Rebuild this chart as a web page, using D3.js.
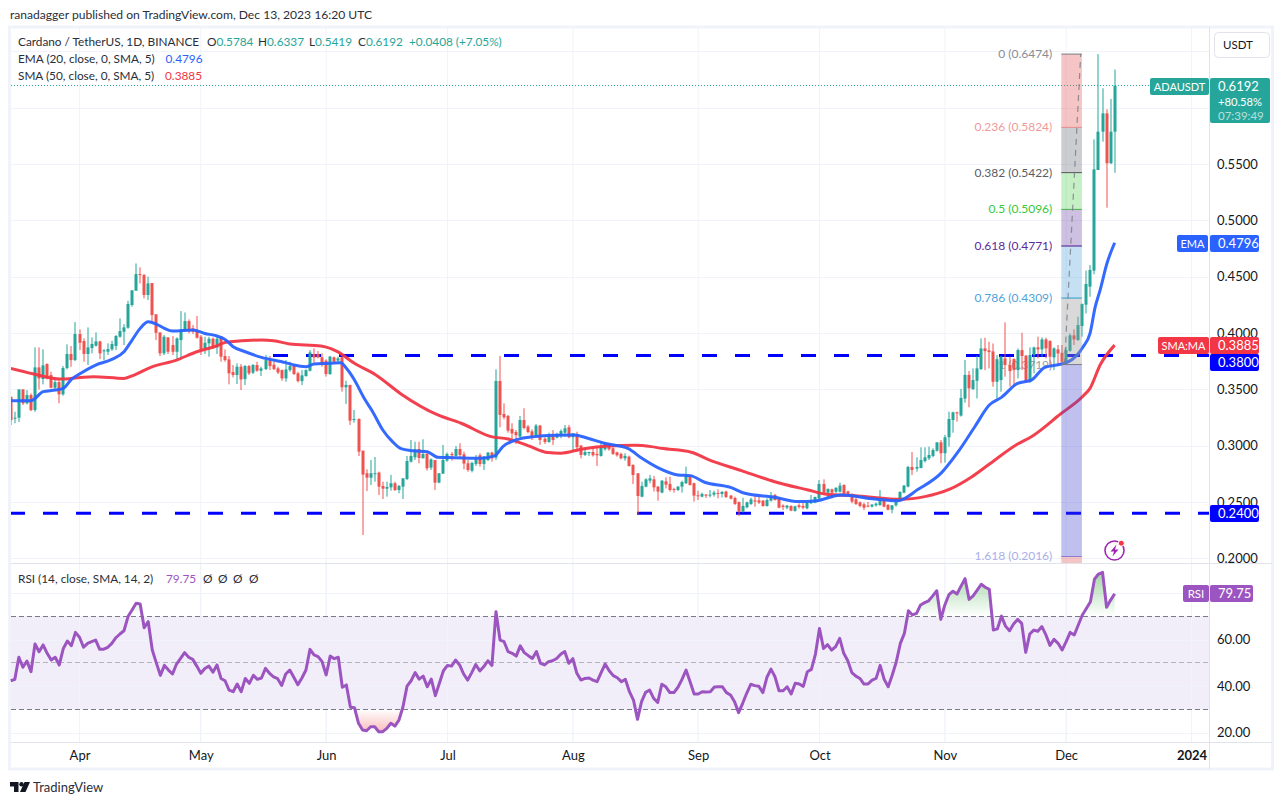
<!DOCTYPE html>
<html>
<head>
<meta charset="utf-8">
<style>
  html, body { margin: 0; padding: 0; background: #fff; overflow: hidden; }
  svg { display: block; }
  text { font-family: "Lato", "Liberation Sans", sans-serif; }
</style>
<script src="https://cdnjs.cloudflare.com/ajax/libs/d3/7.8.5/d3.min.js"></script>
</head>
<body>
<div id="chart"></div>
<script>
// daily candles, one row per day: open, high, low, close
const march = [
  [.3426,.3426,.3174,.3218],[.3233,.3292,.3190,.3239],[.3239,.3491,.3200,.3491],[.3491,.3491,.3352,.3367],
  [.3367,.3485,.3358,.3441],[.3441,.3456,.3298,.3307],[.3307,.3865,.3292,.3687],[.3687,.3865,.3491,.3589],
  [.3583,.3847,.3536,.3705],[.3717,.3723,.3580,.3589],[.3619,.3648,.3500,.3506],[.3506,.3589,.3491,.3556],
  [.3556,.3574,.3367,.3447],[.3447,.3699,.3435,.3681],[.3681,.3892,.3669,.3806],[.3806,.3877,.3693,.3752],
  [.3752,.4090,.3743,.3984]
];
const april = [
  [.3984,.4025,.3841,.3906],[.3921,.3945,.3737,.3806],[.3806,.4043,.3708,.3865],[.3859,.3954,.3812,.3895],
  [.3880,.3998,.3871,.3918],[.3918,.3924,.3761,.3812],[.3832,.3850,.3752,.3838],[.3826,.3901,.3797,.3850],
  [.3847,.3924,.3835,.3895],[.3877,.3975,.3841,.3966],[.3960,.4123,.3951,.4010],[.4004,.4072,.3886,.4043],
  [.4040,.4280,.4031,.4251],[.4242,.4375,.4227,.4372],[.4369,.4612,.4369,.4517],[.4517,.4577,.4434,.4509],
  [.4509,.4517,.4301,.4331],[.4331,.4494,.4286,.4434],[.4437,.4437,.4078,.4153],[.4159,.4159,.3930,.3995],
  [.3998,.3998,.3788,.3812],[.3812,.3975,.3797,.3960],[.3954,.3954,.3806,.3826],[.3886,.3966,.3797,.3826],
  [.3826,.3954,.3758,.3945],[.3930,.4188,.3767,.4019],[.4013,.4176,.4004,.4099],[.4099,.4114,.3989,.4010],
  [.4034,.4064,.3984,.4004],[.4019,.4144,.3942,.3951]
];
const may = [
  [.3960,.3975,.3797,.3847],[.3847,.3960,.3806,.3906],[.3901,.3960,.3782,.3942],[.3942,.3954,.3850,.3871],
  [.3865,.3960,.3806,.3942],[.3960,.3966,.3737,.3782],[.3788,.3847,.3737,.3752],[.3758,.3788,.3536,.3634],
  [.3645,.3708,.3598,.3619],[.3619,.3723,.3539,.3693],[.3693,.3717,.3485,.3580],[.3583,.3708,.3530,.3699],
  [.3699,.3708,.3619,.3634],[.3640,.3717,.3628,.3708],[.3708,.3737,.3648,.3657],[.3657,.3693,.3610,.3678],
  [.3672,.3797,.3663,.3752],[.3752,.3788,.3663,.3699],[.3711,.3737,.3663,.3672],[.3678,.3693,.3628,.3642],
  [.3663,.3669,.3568,.3589],[.3589,.3752,.3559,.3669],[.3663,.3737,.3648,.3699],[.3699,.3708,.3619,.3628],
  [.3634,.3648,.3553,.3565],[.3565,.3663,.3530,.3616],[.3610,.3669,.3604,.3663],[.3657,.3841,.3651,.3820],
  [.3806,.3856,.3729,.3776],[.3806,.3832,.3767,.3776],[.3776,.3812,.3693,.3708]
];
const june = [
  [.3747,.3759,.3605,.3628],[.3628,.3789,.3620,.3783],[.3777,.3783,.3723,.3738],[.3747,.3783,.3723,.3768],
  [.3777,.3783,.3471,.3510],[.3510,.3569,.3362,.3531],[.3531,.3531,.3175,.3213],[.3219,.3308,.3195,.3228],
  [.3228,.3234,.2899,.2937],[.2946,.2946,.2196,.2733],[.2745,.2780,.2587,.2706],[.2706,.2863,.2641,.2745],
  [.2742,.2890,.2670,.2745],[.2751,.2760,.2552,.2626],[.2632,.2670,.2516,.2608],[.2608,.2670,.2537,.2623],
  [.2620,.2730,.2590,.2656],[.2656,.2670,.2587,.2596],[.2596,.2641,.2567,.2632],[.2626,.2700,.2516,.2700],
  [.2694,.2899,.2685,.2854],[.2849,.3041,.2840,.2899],[.2887,.3026,.2863,.2958],[.2961,.3026,.2834,.2881],
  [.2878,.3047,.2878,.2917],[.2917,.2937,.2768,.2789],[.2795,.2878,.2774,.2869],[.2863,.2863,.2596,.2662],
  [.2662,.2745,.2656,.2745],[.2742,.2997,.2739,.2863]
];
const july = [
  [.2857,.2929,.2848,.2917],[.2917,.2934,.2857,.2905],[.2899,.2988,.2893,.2961],[.2961,.3012,.2887,.2908],
  [.2914,.2937,.2780,.2831],[.2834,.2863,.2759,.2774],[.2768,.2848,.2753,.2837],[.2828,.2908,.2810,.2875],
  [.2905,.2923,.2804,.2828],[.2828,.2899,.2774,.2893],[.2863,.2934,.2854,.2929],[.2929,.2937,.2848,.2878],
  [.2884,.3670,.2863,.3566],[.3566,.3789,.3154,.3264],[.3273,.3367,.3225,.3243],[.3255,.3264,.3106,.3124],
  [.3139,.3190,.3047,.3100],[.3112,.3130,.3006,.3083],[.3071,.3255,.3065,.3219],[.3219,.3323,.3136,.3148],
  [.3160,.3175,.3100,.3112],[.3118,.3136,.3041,.3071],[.3077,.3184,.3065,.3169],[.3169,.3175,.2997,.3041],
  [.3053,.3065,.3006,.3023],[.3023,.3106,.3017,.3071],[.3077,.3130,.2997,.3041],[.3062,.3106,.3056,.3092],
  [.3077,.3136,.3056,.3121],[.3106,.3175,.3071,.3145],[.3154,.3175,.3056,.3065]
];
const august = [
  [.3065,.3101,.2946,.3101],[.3095,.3115,.2937,.2976],[.2991,.2997,.2878,.2908],[.2908,.2976,.2899,.2934],
  [.2923,.2937,.2899,.2934],[.2934,.2976,.2893,.2905],[.2917,.2982,.2810,.2905],[.2899,.3026,.2893,.2982],
  [.2958,.3020,.2946,.3006],[.3006,.3012,.2946,.2958],[.2967,.2976,.2908,.2917],[.2931,.2937,.2893,.2905],
  [.2917,.2929,.2869,.2878],[.2878,.2923,.2857,.2899],[.2893,.2902,.2804,.2810],[.2819,.2825,.2650,.2730],
  [.2745,.2745,.2383,.2543],[.2537,.2670,.2531,.2632],[.2626,.2700,.2620,.2691],[.2679,.2730,.2656,.2700],
  [.2691,.2721,.2582,.2620],[.2626,.2632,.2501,.2582],[.2573,.2685,.2567,.2679],[.2673,.2709,.2611,.2644],
  [.2650,.2715,.2582,.2596],[.2605,.2617,.2573,.2596],[.2596,.2632,.2587,.2626],[.2626,.2679,.2573,.2667],
  [.2656,.2804,.2650,.2730],[.2721,.2730,.2635,.2641],[.2656,.2662,.2493,.2546]
];
const september = [
  [.2549,.2590,.2507,.2543],[.2537,.2573,.2531,.2561],[.2555,.2561,.2525,.2546],[.2549,.2596,.2531,.2555],
  [.2555,.2590,.2537,.2573],[.2570,.2602,.2522,.2564],[.2561,.2587,.2531,.2579],[.2582,.2590,.2525,.2534],
  [.2546,.2552,.2513,.2519],[.2525,.2537,.2463,.2472],[.2490,.2493,.2365,.2404],[.2404,.2528,.2395,.2454],
  [.2442,.2493,.2433,.2487],[.2472,.2528,.2463,.2513],[.2504,.2543,.2448,.2493],[.2504,.2537,.2472,.2484],
  [.2501,.2507,.2448,.2454],[.2454,.2522,.2448,.2507],[.2501,.2579,.2493,.2546],[.2552,.2561,.2502,.2507],
  [.2522,.2531,.2433,.2439],[.2457,.2469,.2418,.2445],[.2439,.2463,.2424,.2457],[.2454,.2460,.2407,.2413],
  [.2410,.2457,.2404,.2451],[.2460,.2478,.2430,.2445],[.2454,.2484,.2424,.2439],[.2433,.2493,.2424,.2484],
  [.2478,.2552,.2472,.2496],[.2484,.2537,.2478,.2534]
];
const october = [
  [.2522,.2685,.2513,.2650],[.2650,.2691,.2567,.2573],[.2573,.2611,.2528,.2605],[.2602,.2608,.2522,.2573],
  [.2581,.2617,.2567,.2617],[.2581,.2662,.2573,.2635],[.2641,.2647,.2555,.2561],[.2584,.2590,.2546,.2552],
  [.2561,.2567,.2478,.2493],[.2513,.2525,.2463,.2472],[.2487,.2493,.2442,.2454],[.2469,.2484,.2418,.2439],
  [.2457,.2490,.2442,.2448],[.2448,.2472,.2442,.2466],[.2460,.2484,.2448,.2475],[.2463,.2596,.2454,.2507],
  [.2507,.2519,.2442,.2448],[.2463,.2472,.2415,.2421],[.2421,.2460,.2389,.2460],[.2460,.2522,.2448,.2513],
  [.2507,.2584,.2499,.2579],[.2573,.2641,.2567,.2635],[.2626,.2810,.2620,.2801],[.2801,.2934,.2730,.2774],
  [.2786,.2887,.2759,.2801],[.2792,.2976,.2789,.2863],[.2854,.2976,.2840,.2887],[.2878,.2982,.2863,.2908],
  [.2899,.2967,.2887,.2952],[.2946,.3020,.2937,.3020],[.3020,.3041,.2834,.2923]
];
const november = [
  [.2923,.3086,.2840,.3065],[.3065,.3293,.2982,.3228],[.3219,.3293,.3106,.3287],[.3287,.3293,.3204,.3278],
  [.3258,.3495,.3249,.3415],[.3409,.3753,.3373,.3620],[.3620,.3655,.3332,.3501],[.3494,.3678,.3485,.3574],
  [.3568,.3791,.3411,.3678],[.3672,.3945,.3663,.3856],[.3856,.3951,.3663,.3832],[.3838,.3915,.3678,.3823],
  [.3829,.3900,.3515,.3559],[.3559,.3797,.3411,.3760],[.3574,.3788,.3470,.3782],[.3767,.4087,.3604,.3708],
  [.3708,.3782,.3515,.3654],[.3761,.3767,.3515,.3663],[.3663,.3856,.3589,.3841],[.3841,.3995,.3663,.3788],
  [.3791,.3797,.3550,.3559],[.3559,.3865,.3550,.3797],[.3797,.3871,.3634,.3865],[.3865,.3960,.3767,.3847],
  [.3847,.3954,.3782,.3936],[.3936,.3951,.3767,.3856],[.3921,.3930,.3693,.3782],[.3776,.3865,.3663,.3856],
  [.3847,.3886,.3717,.3811],[.3817,.3886,.3708,.3737]
];
const december = [
  [.3743,.3871,.3723,.3841],[.3835,.3989,.3826,.3972],[.3972,.4025,.3886,.3936],[.3930,.4138,.3924,.4064],
  [.4055,.4256,.3960,.4250],[.4245,.4548,.4167,.4429],[.4405,.4598,.4316,.4554],[.4548,.5716,.4515,.5449],
  [.5443,.6474,.5443,.5784],[.5784,.6170,.5695,.5947],[.5947,.5983,.5108,.5503],[.5503,.6075,.5497,.5784],
  [.5784,.6337,.5419,.6192]
];

const emaDays = [0,3,5,6,8,11,13,15,17,21,25,28,30,32,34,36,38,40,45,48,51,53,55,58,62,68,70,73,75,79,
  81.6,83,85,87.4,89.5,92,94.4,96.5,99.4,103,105.6,109.7,116.3,119.6,121.7,125.4,129.5,134.5,139.4,142.7,146.8,152.6,156,160,165,168,171.6,178,181.5,189,194.7,198.8,205.4,213.7,219.4,224.4,230.2,234.3,238.4,
  242,245,249,252.4,255.7,259.8,262.3,265.2,266.9,268.2,269.4,271.1,273];
const emaValues = [.3390,.3390,.3390,.3411,.3471,.3485,.3500,.3580,.3628,.3708,.3758,.3826,.3930,.4034,.4093,.4072,.4034,.4010,.4019,.3989,.3966,.3936,.3871,.3826,.3776,.3729,.3708,.3693,.3717,.3723,
  .3729,.3679,.3575,.3412,.3293,.3130,.3026,.2964,.2946,.2937,.2887,.2884,.2878,.2899,.2982,.3047,.3071,.3083,.3086,.3056,.3012,.2967,.2880,.2795,.2730,.2724,.2665,.2620,.2567,.2531,.2493,.2498,.2552,.2516,.2501,.2602,.2751,.2937,.3159,
  .3352,.3420,.3545,.3574,.3687,.3717,.3752,.3871,.3989,.4227,.4375,.4613,.4796];
const smaDays = [0,5.7,12.3,17.3,20.5,28,30.5,34.6,41,46,50.3,53.6,62,65,69,76.7,79,80.8,85,90.3,96.5,105.6,111.4,118.8,123,127.9,132.8,136,141,147.7,154.3,158.4,160.9,168.3,172.4,180.7,188.9,197.2,201.3,209.5,220.3,226,232.2,237.6,241.7,249,252.4,259.6,265.2,266.9,269.4,273];
const smaValues = [.3678,.3628,.3583,.3598,.3604,.3589,.3619,.3687,.3752,.3826,.3871,.3912,.3930,.3924,.3895,.3877,.3856,.3827,.3723,.3620,.3451,.3264,.3190,.3071,.3050,.2991,.2929,.2923,.2958,.2988,.2994,.2982,.2967,.2932,.2869,.2768,.2670,.2596,.2561,.2543,.2513,.2537,.2603,.2712,.2818,.3005,.3070,.3272,.3432,.3500,.3708,.3885];

// RSI, one value per day
const rsiMarch = [42.3,42.9,52.4,48.1,50.8,46.2,58.1,54.8,57.7,54.1,51.2,52.4,49.1,56.2,59.4,57.4,63.1];
const rsiApril = [61,56.7,58.4,59.1,59.8,55.8,55.9,56.7,58.4,60.8,62.4,63.8,69.9,72.7,75.6,75.3,65.1,67.7,55.5,50,44.6,48.9,46.9,45.2,49.5,51.9,54.4,52.4,51.5,48.6];
const rsiMay = [45.5,47.6,48.6,46,49.1,43.3,42.3,38.3,37.6,40.9,37.6,43.3,41.2,44.6,42.9,43.5,47.6,45.5,44,43.2,40.3,45.2,46.9,43.8,40.6,43.5,46.9,55.8,53.4,52.7,50.5];
const rsiJune = [44.8,52.9,51.8,52.4,39.5,40.5,30.9,30.7,24,21.1,20.8,22.5,22.5,20.4,20.4,21.8,24,22.8,25.4,31.1,40,42.3,45.8,43,44.3,39.7,43,35.9,41.2,46.6];
const rsiJuly = [48.9,48.6,51.2,49.1,45.2,42.6,45.8,49.3,46.5,48.4,50.9,48.9,72,59.8,59.1,54.8,54.1,52.9,57.3,54.4,53.1,51.9,54.9,49.8,49.1,50.5,50.9,51.9,53.7,54.9,49.8];
const rsiAugust = [51.8,45.5,42.6,43.3,43.5,42.6,41.9,45.8,49.5,46.6,44.5,43.6,41.9,42.9,37.6,34,25.7,33.3,37.3,38.3,34.7,33,40.8,39.7,37.2,37.2,39.5,42.9,46.9,41.9,36.6];
const rsiSeptember = [36.6,37.6,37.5,37.6,39.6,39.7,39.7,37.2,36.2,33.3,28.6,32.6,36.9,40.8,40.2,39.9,37.2,43.8,47.3,44,38,38,39.7,36.6,41.2,40.9,39.9,46.2,47.2,53.8];
const rsiOctober = [64.8,56.2,57.8,55.5,57,60.5,54.1,50.9,45.8,44.3,43.3,40.9,40.9,42.6,43.3,48.9,42.9,39.7,44.8,50.5,58.4,62.7,72.4,70.6,71.3,74.9,75.9,76.7,78.8,81,68.7];
const rsiNovember = [74.9,79.3,80.8,79.6,83,86.2,77.3,78.8,81.3,83.8,82.5,81.6,64.1,64.6,70.1,65.8,63.8,66.7,68.7,67,54.5,62.4,64.1,63.6,65.6,62,57.5,60.1,58.4,55.5];
const rsiDecember = [59.1,63.1,62,66.3,70.6,73.4,76.3,86,88.2,88.9,73.9,77,79.75];

// axes and levels
const priceTicks = [0.2, 0.25, 0.3, 0.35, 0.4, 0.45, 0.5, 0.55];
const priceGrid = [0.2, 0.25, 0.3, 0.35, 0.4, 0.45, 0.5, 0.55, 0.6, 0.65];
const rsiTicks = [60, 40, 20];
const rsiGrid = [80, 60, 40, 20];
const rsiBands = [70, 50, 30];
const monthLabels = ['Apr', 'May', 'Jun', 'Jul', 'Aug', 'Sep', 'Oct', 'Nov', 'Dec', '2024'];
const monthStarts = ['2023-04-01', '2023-05-01', '2023-06-01', '2023-07-01', '2023-08-01', '2023-09-01', '2023-10-01', '2023-11-01', '2023-12-01', '2024-01-01'];
const supportLevels = [0.38, 0.24];
const fibRatios = ['0', '0.236', '0.382', '0.5', '0.618', '0.786', '1', '1.618'];
const fibPrices = [0.6474, 0.5824, 0.5422, 0.5096, 0.4771, 0.4309, 0.3719, 0.2016];

const width = 1284, height = 805;
const left = 11, right = 1209;
const mainTop = 27, mainBottom = 563, rsiTop = 564, rsiBottom = 742;
const green = '#26a69a', red = '#ef5350', ema = '#2962ff', sma = '#f23645', rsiColor = '#9c55c0';
const gridColor = '#f0f3fa', frameColor = '#e0e3eb', textColor = '#131722';
const fibLine = ['#787b86', '#e58b8b', '#555555', '#4caf50', '#4a148c', '#2f9bd0', '#787b86', '#8a7fd0'];
const fibText = ['#8a8d96', '#ef9a9a', '#595c66', '#37c837', '#5b2a9a', '#4fa3d8', '#9a9da6', '#aab0ea'];
const fibFill = ['rgba(224,76,76,.32)', 'rgba(120,123,134,.38)', 'rgba(76,205,76,.32)', 'rgba(103,58,160,.32)', 'rgba(70,160,215,.32)', 'rgba(150,150,150,.36)', 'rgba(60,60,205,.32)', 'rgba(224,76,76,.32)'];

// series were read against a grid about a pixel off near the bottom, this puts them back on it
const rebase = p => 0.20115 + (p - 0.2) * 0.99734;

const candles = [...march, ...april, ...may, ...june, ...july, ...august, ...september, ...october, ...november, ...december]
  .map((c, i) => ({ day: i, open: rebase(c[0]), high: rebase(c[1]), low: rebase(c[2]), close: rebase(c[3]) }));
const rsi = [...rsiMarch, ...rsiApril, ...rsiMay, ...rsiJune, ...rsiJuly, ...rsiAugust, ...rsiSeptember, ...rsiOctober, ...rsiNovember, ...rsiDecember];

const dayDate = d => new Date(Date.UTC(2023, 2, 15) + d * 864e5);

const x = d3.scaleUtc().domain([new Date(Date.UTC(2023, 3, 1)), new Date(Date.UTC(2024, 0, 1))]).range([79.5, 1191.5]);
const y = d3.scaleLinear().domain([0.2, 0.55]).range([558.3, 163.85]);
const yRsi = d3.scaleLinear().domain([60, 20]).range([639.6, 732.6]);
const xDay = d => x(dayDate(d));

const svg = d3.select('#chart').append('svg').attr('width', width).attr('height', height);
const defs = svg.append('defs');
defs.append('clipPath').attr('id', 'main-clip').append('rect')
  .attr('x', left).attr('y', mainTop).attr('width', right - left).attr('height', mainBottom - mainTop);
defs.append('clipPath').attr('id', 'above-70').append('rect')
  .attr('x', left).attr('y', rsiTop).attr('width', right - left).attr('height', yRsi(70) - rsiTop);
defs.append('clipPath').attr('id', 'below-30').append('rect')
  .attr('x', left).attr('y', yRsi(30)).attr('width', right - left).attr('height', rsiBottom - yRsi(30));

const gradUp = defs.append('linearGradient').attr('id', 'rsi-up').attr('gradientUnits', 'userSpaceOnUse')
  .attr('x1', 0).attr('x2', 0).attr('y1', yRsi(90)).attr('y2', yRsi(70));
gradUp.append('stop').attr('offset', 0).attr('stop-color', '#4caf50').attr('stop-opacity', 0.55);
gradUp.append('stop').attr('offset', 1).attr('stop-color', '#4caf50').attr('stop-opacity', 0);
const gradDown = defs.append('linearGradient').attr('id', 'rsi-down').attr('gradientUnits', 'userSpaceOnUse')
  .attr('x1', 0).attr('x2', 0).attr('y1', yRsi(30)).attr('y2', yRsi(20));
gradDown.append('stop').attr('offset', 0).attr('stop-color', '#ef5350').attr('stop-opacity', 0);
gradDown.append('stop').attr('offset', 1).attr('stop-color', '#ef5350').attr('stop-opacity', 0.4);

// outer frame
svg.append('rect').attr('x', 9.5).attr('y', 27).attr('width', 1263).attr('height', 742)
  .attr('fill', '#fff').attr('stroke', gridColor).attr('stroke-width', 3);

// grid
const grid = svg.append('g');
grid.selectAll('.v').data(monthStarts).join('line')
  .attr('x1', d => x(new Date(d))).attr('x2', d => x(new Date(d)))
  .attr('y1', mainTop).attr('y2', rsiBottom).attr('stroke', gridColor);
grid.selectAll('.h').data(priceGrid).join('line')
  .attr('x1', left).attr('x2', right).attr('y1', d => Math.round(y(d)) + 0.5).attr('y2', d => Math.round(y(d)) + 0.5)
  .attr('stroke', gridColor);

// rsi pane background
svg.append('rect').attr('x', left).attr('y', yRsi(70)).attr('width', right - left).attr('height', yRsi(30) - yRsi(70))
  .attr('fill', '#7e57c2').attr('opacity', 0.1);
svg.append('g').selectAll('line').data(rsiGrid).join('line')
  .attr('x1', left).attr('x2', right).attr('y1', d => Math.round(yRsi(d)) + 0.5).attr('y2', d => Math.round(yRsi(d)) + 0.5)
  .attr('stroke', gridColor);
svg.append('g').selectAll('line').data(monthStarts).join('line')
  .attr('x1', d => x(new Date(d))).attr('x2', d => x(new Date(d)))
  .attr('y1', rsiTop).attr('y2', rsiBottom).attr('stroke', gridColor);
svg.append('g').selectAll('line').data(rsiBands).join('line')
  .attr('x1', left).attr('x2', right).attr('y1', d => Math.floor(yRsi(d)) + 0.5).attr('y2', d => Math.floor(yRsi(d)) + 0.5)
  .attr('stroke', d => d === 50 ? '#b2b5be' : '#787b86').attr('stroke-dasharray', '5 3');

// support levels
const plot = svg.append('g').attr('clip-path', 'url(#main-clip)');
const supportStart = { 0.38: 273, 0.24: 10 };
plot.selectAll('.support').data(supportLevels).join('line')
  .attr('x1', d => supportStart[d]).attr('x2', right)
  .attr('y1', d => y(d)).attr('y2', d => y(d))
  .attr('stroke', '#0000ff').attr('stroke-width', 3).attr('stroke-dasharray', '15 18');

// fib labels sit behind the candles
const fibLeft = xDay(259.8), fibRight = xDay(264.9);
plot.append('g').selectAll('text').data(fibPrices).join('text')
  .attr('x', fibLeft - 9).attr('y', d => y(d) + 4)
  .attr('text-anchor', 'end').attr('font-size', 12)
  .attr('fill', (d, i) => fibText[i])
  .text((d, i) => `${fibRatios[i]} (${d3.format('.4f')(d)})`);

// candles
const candle = plot.append('g').selectAll('g').data(candles).join('g')
  .attr('fill', d => d.close >= d.open ? green : red);
candle.append('rect')
  .attr('x', d => Math.round(xDay(d.day)) - 0.5).attr('width', 1)
  .attr('y', d => y(d.high)).attr('height', d => y(d.low) - y(d.high));
candle.append('rect')
  .attr('x', d => Math.round(xDay(d.day)) - 1.5).attr('width', 3)
  .attr('y', d => y(Math.max(d.open, d.close)))
  .attr('height', d => Math.max(1, Math.abs(y(d.open) - y(d.close))));

// moving averages
const maLine = d3.line().x(d => xDay(d[0])).y(d => y(rebase(d[1]))).curve(d3.curveMonotoneX);
plot.append('path').attr('d', maLine(d3.zip(smaDays, smaValues)))
  .attr('fill', 'none').attr('stroke', sma).attr('stroke-width', 3).attr('opacity', 0.95);
plot.append('path').attr('d', maLine(d3.zip(emaDays, emaValues)))
  .attr('fill', 'none').attr('stroke', ema).attr('stroke-width', 3).attr('opacity', 0.95);

// last price line
svg.append('line').attr('x1', left).attr('x2', 1150).attr('y1', Math.floor(y(0.6192)) + 0.5).attr('y2', Math.floor(y(0.6192)) + 0.5)
  .attr('stroke', green).attr('stroke-dasharray', '1 2');

// fib retracement
const fibEdges = [...fibPrices, 0.195];
const fib = svg.append('g').attr('clip-path', 'url(#main-clip)');
fib.selectAll('.band').data(fibFill).join('rect')
  .attr('x', fibLeft).attr('width', fibRight - fibLeft)
  .attr('y', (d, i) => y(fibEdges[i])).attr('height', (d, i) => y(fibEdges[i + 1]) - y(fibEdges[i]))
  .attr('fill', d => d);
fib.selectAll('.level').data(fibPrices).join('line')
  .attr('x1', fibLeft).attr('x2', fibRight).attr('y1', d => y(d)).attr('y2', d => y(d))
  .attr('stroke', (d, i) => fibLine[i]);
fib.append('line').attr('x1', xDay(260.6)).attr('y1', y(0.3719)).attr('x2', xDay(264.6)).attr('y2', y(0.6474))
  .attr('stroke', '#787b86').attr('stroke-width', 1.2).attr('stroke-dasharray', '6 5').attr('opacity', 0.8);

// axes
const priceAxis = d3.axisRight(y).tickValues(priceTicks).tickFormat(d3.format('.4f')).tickSize(0).tickPadding(8);
const rsiAxis = d3.axisRight(yRsi).tickValues(rsiTicks).tickFormat(d3.format('.2f')).tickSize(0).tickPadding(8);
const timeAxis = d3.axisBottom(x).tickValues(monthStarts.map(d => new Date(d)))
  .tickFormat((d, i) => monthLabels[i]).tickSize(0).tickPadding(9);

const axisP = svg.append('g').attr('transform', `translate(${right},0)`).call(priceAxis);
const axisR = svg.append('g').attr('transform', `translate(${right},0)`).call(rsiAxis);
const axisT = svg.append('g').attr('transform', `translate(0,${rsiBottom})`).call(timeAxis);
[axisP, axisR, axisT].forEach(a => {
  a.select('.domain').remove();
  a.selectAll('text').attr('font-size', 13).attr('fill', textColor).style('font-family', 'Lato');
});
axisT.selectAll('text').filter((d, i) => monthLabels[i] === '2024').attr('font-weight', 700);

// frame lines on top
svg.append('line').attr('x1', right + 0.5).attr('x2', right + 0.5).attr('y1', mainTop).attr('y2', 769).attr('stroke', frameColor);
svg.append('line').attr('x1', left).attr('x2', 1272).attr('y1', 563.5).attr('y2', 563.5).attr('stroke', frameColor);
svg.append('line').attr('x1', left).attr('x2', 1272).attr('y1', rsiBottom + 0.5).attr('y2', rsiBottom + 0.5).attr('stroke', frameColor);

// price tags
const tag = (x0, y0, w, h, fill, label, opts = {}) => {
  svg.append('rect').attr('x', x0).attr('y', y0).attr('width', w).attr('height', h).attr('rx', 2).attr('fill', fill);
  svg.append('text').attr('x', x0 + (opts.dx || w / 2)).attr('y', y0 + h / 2 + 4.5)
    .attr('text-anchor', opts.dx ? 'start' : 'middle').attr('font-size', opts.size || 13).attr('fill', '#fff').text(label);
};
tag(1150, 78, 59, 17, green, 'ADAUSDT', { size: 11 });
svg.append('rect').attr('x', 1210).attr('y', 78).attr('width', 60).attr('height', 45).attr('rx', 2).attr('fill', green);
svg.append('text').attr('x', 1218).attr('y', 91).attr('font-size', 13).attr('fill', '#fff').text('0.6192');
svg.append('text').attr('x', 1218).attr('y', 105.5).attr('font-size', 11.2).attr('fill', '#fff').text('+80.58%');
svg.append('text').attr('x', 1218).attr('y', 119.5).attr('font-size', 11.5).attr('fill', '#fff').attr('opacity', 0.65).text('07:39:49');
tag(1177, 235, 31, 17, ema, 'EMA', { size: 11 });
tag(1210, 235, 49, 17, ema, d3.format('.4f')(emaValues[emaValues.length - 1]), { dx: 8 });
tag(1158, 337, 51, 17, sma, 'SMA:MA', { size: 11 });
tag(1210, 337, 49, 17, sma, d3.format('.4f')(smaValues[smaValues.length - 1]), { dx: 8 });
tag(1210, 354, 49, 17, '#0000ff', d3.format('.4f')(supportLevels[0]), { dx: 8 });
tag(1210, 505, 49, 17, '#0000ff', d3.format('.4f')(supportLevels[1]), { dx: 8 });
tag(1183, 585, 26, 17, rsiColor, 'RSI', { size: 11.5 });
tag(1210, 585, 43, 17, rsiColor, d3.format('.2f')(rsi[rsi.length - 1]), { dx: 8 });

// currency button
svg.append('rect').attr('x', 1214.5).attr('y', 32.5).attr('width', 55).attr('height', 25).attr('rx', 4)
  .attr('fill', '#fff').attr('stroke', frameColor);
svg.append('text').attr('x', 1223).attr('y', 49).attr('font-size', 11.5).attr('fill', textColor).text('USDT');

// rsi line and fills
const rsiPoints = rsi.map((v, i) => [i, v]);
const rsiArea = base => d3.area().x(d => xDay(d[0])).y0(yRsi(base)).y1(d => yRsi(d[1]));
svg.append('path').attr('d', rsiArea(70)(rsiPoints)).attr('fill', 'url(#rsi-up)').attr('clip-path', 'url(#above-70)');
svg.append('path').attr('d', rsiArea(30)(rsiPoints)).attr('fill', 'url(#rsi-down)').attr('clip-path', 'url(#below-30)');
svg.append('path').attr('d', d3.line().x(d => xDay(d[0])).y(d => yRsi(d[1]))(rsiPoints))
  .attr('fill', 'none').attr('stroke', rsiColor).attr('stroke-width', 3).attr('stroke-linejoin', 'round');

// legends
const legend = svg.append('g').attr('font-size', 11.8).attr('fill', '#2a2e39');
svg.append('text').attr('x', 10).attr('y', 19).attr('font-size', 12.1).attr('fill', '#2a2e39')
  .text('ranadagger published on TradingView.com, Dec 13, 2023 16:20 UTC');
legend.append('text').attr('x', 18).attr('y', 46).text('Cardano / TetherUS, 1D, BINANCE');
const ohlc = [['O', '0.5784', 207], ['H', '0.6337', 258], ['L', '0.5419', 309], ['C', '0.6192', 358]];
ohlc.forEach(([k, v, px]) => {
  const t = legend.append('text').attr('x', px).attr('y', 46);
  t.append('tspan').text(k);
  t.append('tspan').attr('fill', green).text(v);
});
legend.append('text').attr('x', 409).attr('y', 46).attr('fill', green).text('+0.0408 (+7.05%)');
legend.append('text').attr('x', 18).attr('y', 63).text('EMA (20, close, 0, SMA, 5)');
legend.append('text').attr('x', 165.5).attr('y', 63).attr('fill', ema).text(d3.format('.4f')(emaValues[emaValues.length - 1]));
legend.append('text').attr('x', 18).attr('y', 80).text('SMA (50, close, 0, SMA, 5)');
legend.append('text').attr('x', 165).attr('y', 80).attr('fill', sma).text(d3.format('.4f')(smaValues[smaValues.length - 1]));
legend.append('text').attr('x', 18).attr('y', 583).text('RSI (14, close, SMA, 14, 2)');
legend.append('text').attr('x', 166).attr('y', 583).attr('fill', rsiColor).text(d3.format('.2f')(rsi[rsi.length - 1]));
[203, 218, 233, 249].forEach(px => legend.append('text').attr('x', px).attr('y', 583).text('Ø'));

// lightning badge
const badge = svg.append('g').attr('transform', 'translate(1114.5,550.5)');
badge.append('circle').attr('r', 9.5).attr('fill', '#fff').attr('stroke', '#9c27b0').attr('stroke-width', 1.6);
badge.append('path').attr('d', 'M2,-6 L-4,1 L-0.5,1 L-2,6 L4,-1 L0.5,-1 Z').attr('fill', '#9c27b0');
badge.append('circle').attr('cx', 6.8).attr('cy', -7.3).attr('r', 3).attr('fill', '#f23645').attr('stroke', '#fff');

// logo
const logo = svg.append('g').attr('transform', 'translate(10,782)').attr('fill', '#131722');
logo.append('path').attr('d', 'M0,0 H8.5 V10 H4 V4.4 H0 Z');
logo.append('circle').attr('cx', 11.5).attr('cy', 2.3).attr('r', 2.2);
logo.append('path').attr('d', 'M14.5,0 H20 L15.5,10 H10 Z');
svg.append('text').attr('x', 33).attr('y', 792).attr('font-size', 13).attr('fill', '#2a2e39').text('TradingView');
</script>
</body>
</html>
